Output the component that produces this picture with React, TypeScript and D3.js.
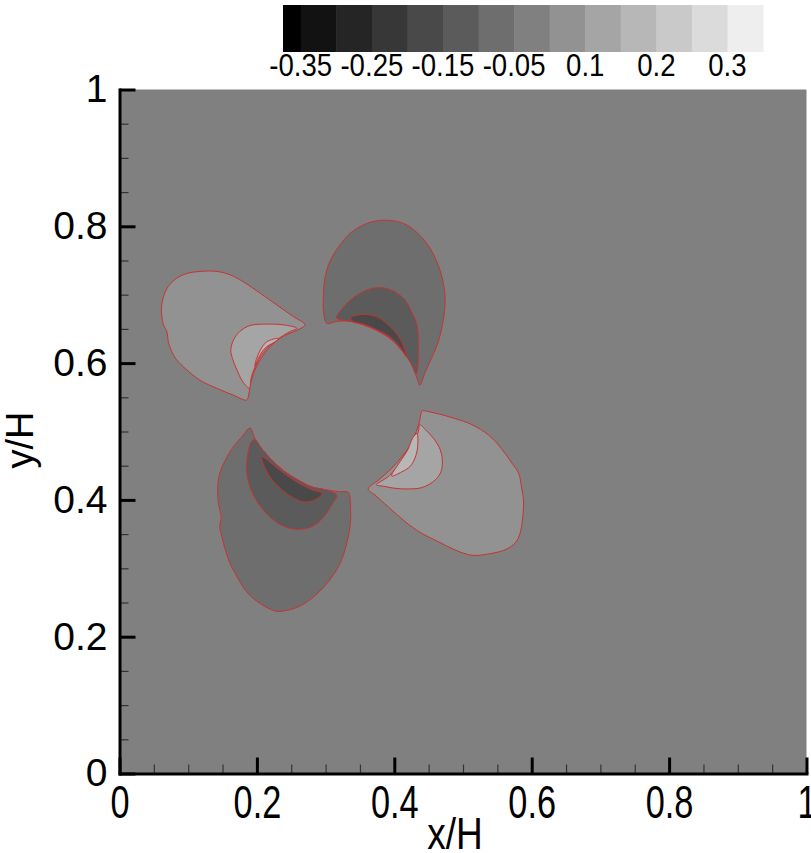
import React, { useEffect, useRef } from 'react';
import * as d3 from 'd3';

// contour levels -> 14 gray bands (band i lies between levels[i-1] and levels[i])
const levels = [-0.35, -0.3, -0.25, -0.2, -0.15, -0.1, -0.05, 0.05, 0.1, 0.15, 0.2, 0.25, 0.3];
const bandGray = [0, 18, 37, 55, 73, 91, 110, 128, 146, 165, 183, 201, 219, 238];
const legendLabels = [-0.35, -0.25, -0.15, -0.05, 0.1, 0.2, 0.3];
const majorTicks = [0, 0.2, 0.4, 0.6, 0.8, 1];
const minorTicks = [0.05, 0.1, 0.15, 0.25, 0.3, 0.35, 0.45, 0.5, 0.55, 0.65, 0.7, 0.75, 0.85, 0.9, 0.95];
const backgroundBand = 7;

// contour region outlines, [x/H, y/H]
// upper-left lobe (positive)
const nwOuter = [[0.270, 0.656], [0.253, 0.668], [0.229, 0.685], [0.205, 0.702], [0.180, 0.719], [0.161, 0.729], [0.142, 0.734], [0.117, 0.734], [0.098, 0.731], [0.083, 0.724], [0.071, 0.712], [0.064, 0.697], [0.061, 0.678], [0.064, 0.656], [0.069, 0.646], [0.071, 0.631], [0.076, 0.617], [0.083, 0.605], [0.098, 0.590], [0.117, 0.575], [0.142, 0.563], [0.166, 0.553], [0.185, 0.546], [0.188, 0.553], [0.190, 0.566], [0.195, 0.585], [0.205, 0.605], [0.219, 0.624], [0.238, 0.639], [0.258, 0.648]];
const nwMid = [[0.258, 0.651], [0.238, 0.656], [0.214, 0.657], [0.190, 0.655], [0.175, 0.646], [0.166, 0.634], [0.162, 0.619], [0.165, 0.605], [0.171, 0.590], [0.178, 0.575], [0.185, 0.566], [0.189, 0.563], [0.192, 0.580], [0.200, 0.600], [0.212, 0.619], [0.229, 0.634], [0.248, 0.646]];
const nwInner = [[0.231, 0.636], [0.214, 0.631], [0.205, 0.619], [0.199, 0.605], [0.197, 0.595], [0.202, 0.607], [0.212, 0.622], [0.229, 0.633]];

// upper-right lobe (negative)
const neOuter = [[0.302, 0.658], [0.297, 0.675], [0.297, 0.700], [0.299, 0.724], [0.306, 0.748], [0.319, 0.770], [0.336, 0.790], [0.355, 0.802], [0.374, 0.808], [0.399, 0.808], [0.418, 0.802], [0.437, 0.787], [0.452, 0.768], [0.464, 0.743], [0.471, 0.719], [0.474, 0.690], [0.471, 0.661], [0.464, 0.631], [0.454, 0.607], [0.445, 0.587], [0.437, 0.568], [0.433, 0.578], [0.423, 0.602], [0.408, 0.622], [0.394, 0.636], [0.374, 0.648], [0.355, 0.656], [0.336, 0.661], [0.316, 0.661]];
const neMid = [[0.316, 0.666], [0.323, 0.678], [0.336, 0.692], [0.350, 0.702], [0.367, 0.709], [0.384, 0.710], [0.401, 0.704], [0.416, 0.692], [0.425, 0.675], [0.433, 0.656], [0.435, 0.631], [0.435, 0.612], [0.434, 0.592], [0.432, 0.585], [0.423, 0.602], [0.408, 0.622], [0.394, 0.636], [0.374, 0.648], [0.355, 0.656], [0.336, 0.661]];
const neInner = [[0.336, 0.666], [0.345, 0.670], [0.360, 0.671], [0.374, 0.668], [0.389, 0.658], [0.401, 0.646], [0.411, 0.631], [0.416, 0.617], [0.418, 0.609], [0.408, 0.624], [0.394, 0.638], [0.374, 0.649], [0.355, 0.657], [0.340, 0.661]];

// lower-left lobe (negative)
const swOuter = [[0.190, 0.505], [0.178, 0.492], [0.166, 0.478], [0.154, 0.458], [0.146, 0.439], [0.143, 0.419], [0.144, 0.395], [0.148, 0.375], [0.146, 0.361], [0.149, 0.346], [0.154, 0.327], [0.161, 0.307], [0.171, 0.288], [0.183, 0.268], [0.197, 0.254], [0.212, 0.244], [0.229, 0.237], [0.241, 0.238], [0.256, 0.242], [0.270, 0.249], [0.289, 0.264], [0.306, 0.283], [0.321, 0.307], [0.331, 0.337], [0.336, 0.366], [0.336, 0.395], [0.333, 0.411], [0.319, 0.412], [0.299, 0.415], [0.280, 0.419], [0.260, 0.429], [0.241, 0.441], [0.222, 0.458], [0.207, 0.475], [0.197, 0.490]];
const swMid = [[0.192, 0.485], [0.187, 0.468], [0.185, 0.444], [0.190, 0.419], [0.202, 0.395], [0.219, 0.375], [0.238, 0.362], [0.258, 0.357], [0.280, 0.361], [0.297, 0.375], [0.309, 0.393], [0.316, 0.407], [0.299, 0.415], [0.280, 0.419], [0.260, 0.429], [0.241, 0.441], [0.222, 0.458], [0.207, 0.475], [0.197, 0.488]];
const swInner = [[0.207, 0.463], [0.212, 0.446], [0.222, 0.429], [0.236, 0.415], [0.251, 0.404], [0.268, 0.397], [0.282, 0.399], [0.292, 0.405], [0.295, 0.410], [0.280, 0.415], [0.260, 0.425], [0.241, 0.438], [0.224, 0.451], [0.212, 0.461]];

// lower-right lobe (positive)
const seOuter = [[0.440, 0.530], [0.459, 0.527], [0.488, 0.519], [0.513, 0.510], [0.537, 0.495], [0.556, 0.475], [0.571, 0.454], [0.581, 0.439], [0.585, 0.419], [0.588, 0.400], [0.587, 0.375], [0.583, 0.351], [0.576, 0.337], [0.561, 0.327], [0.537, 0.321], [0.513, 0.319], [0.488, 0.327], [0.464, 0.339], [0.440, 0.351], [0.416, 0.368], [0.391, 0.390], [0.372, 0.407], [0.362, 0.416], [0.377, 0.429], [0.396, 0.446], [0.411, 0.463], [0.423, 0.480], [0.430, 0.495], [0.436, 0.512], [0.439, 0.527]];
const seMid = [[0.437, 0.510], [0.446, 0.502], [0.457, 0.490], [0.467, 0.473], [0.470, 0.454], [0.467, 0.439], [0.457, 0.427], [0.440, 0.418], [0.420, 0.416], [0.401, 0.417], [0.384, 0.420], [0.374, 0.422], [0.391, 0.434], [0.406, 0.451], [0.418, 0.468], [0.428, 0.485], [0.435, 0.500]];
const seInner = [[0.433, 0.497], [0.434, 0.478], [0.430, 0.461], [0.423, 0.449], [0.411, 0.441], [0.396, 0.435], [0.407, 0.454], [0.419, 0.472], [0.427, 0.491]];

const regions = [
  { band: 8, pts: nwOuter }, { band: 9, pts: nwMid }, { band: 10, pts: nwInner },
  { band: 6, pts: neOuter }, { band: 5, pts: neMid }, { band: 4, pts: neInner },
  { band: 6, pts: swOuter }, { band: 5, pts: swMid }, { band: 4, pts: swInner },
  { band: 8, pts: seOuter }, { band: 9, pts: seMid }, { band: 10, pts: seInner },
];

const FONT = 'Liberation Sans, Arial, Helvetica, sans-serif';

const App = () => {
  const ref = useRef<SVGSVGElement>(null);

  useEffect(() => {
    const width = 811;
    const height = 853;
    const margin = { top: 89.5, right: 4.5, bottom: 79.5, left: 119.5 };

    const svg = d3.select(ref.current).attr('width', width).attr('height', height);
    svg.selectAll('*').remove();

    const x = d3.scaleLinear().domain([0, 1]).range([margin.left, width - margin.right]);
    const y = d3.scaleLinear().domain([0, 1]).range([height - margin.bottom, margin.top]);
    const gray = (b: number) => d3.rgb(bandGray[b], bandGray[b], bandGray[b]).formatHex();

    // plot background = band between -0.05 and 0.05
    svg.append('rect')
      .attr('x', x(0)).attr('y', y(1))
      .attr('width', x(1) - x(0)).attr('height', y(0) - y(1))
      .attr('fill', gray(backgroundBand));

    const line = d3.line<number[]>()
      .x(d => x(d[0]))
      .y(d => y(d[1]))
      .curve(d3.curveCatmullRomClosed.alpha(0.5));

    svg.append('g').selectAll('path')
      .data(regions)
      .join('path')
      .attr('d', d => line(d.pts))
      .attr('fill', d => gray(d.band))
      .attr('stroke', '#c83232')
      .attr('stroke-width', 1);

    // minor ticks (inward)
    const xMinor = svg.append('g').attr('transform', `translate(0,${y(0)})`)
      .call(d3.axisBottom(x).tickValues(minorTicks).tickSize(-9).tickFormat(() => ''));
    const yMinor = svg.append('g').attr('transform', `translate(${x(0)},0)`)
      .call(d3.axisLeft(y).tickValues(minorTicks).tickSize(-9).tickFormat(() => ''));
    [xMinor, yMinor].forEach(g => {
      g.select('.domain').remove();
      g.selectAll('line').attr('stroke', '#333').attr('stroke-width', 1.2);
    });

    // major ticks + labels
    const xAxis = svg.append('g').attr('transform', `translate(0,${y(0)})`)
      .call(d3.axisBottom(x).tickValues(majorTicks).tickSize(-16).tickSizeOuter(0)
        .tickPadding(10).tickFormat(d3.format('')));
    const yAxis = svg.append('g').attr('transform', `translate(${x(0)},0)`)
      .call(d3.axisLeft(y).tickValues(majorTicks).tickSize(-16).tickSizeOuter(0)
        .tickPadding(12).tickFormat(d3.format('')));
    [xAxis, yAxis].forEach(g => {
      g.attr('font-size', null).attr('font-family', null);
      g.select('.domain').attr('stroke', '#000').attr('stroke-width', 3).attr('stroke-linecap', 'square');
      g.selectAll('.tick line').attr('stroke', '#000').attr('stroke-width', 3);
      g.selectAll('text').attr('fill', '#000').style('font-family', FONT).style('font-size', '39px');
    });
    // x labels are drawn tall and narrow in the original
    xAxis.selectAll('text').attr('transform', 'scale(0.88,1.17)');

    // axis titles
    svg.append('text')
      .attr('transform', 'translate(455,849) scale(0.95,1.15)')
      .attr('text-anchor', 'middle')
      .style('font-family', FONT).style('font-size', '39px')
      .text('x/H');
    svg.append('text')
      .attr('transform', `translate(33,440) rotate(-90)`)
      .attr('text-anchor', 'middle')
      .style('font-family', FONT).style('font-size', '38px')
      .text('y/H');

    // colour legend
    const cb = d3.scaleLinear().domain([-0.5, levels.length]).range([283, 763]);
    const legend = svg.append('g');
    legend.selectAll('rect')
      .data(bandGray)
      .join('rect')
      .attr('x', (d, i) => (i === 0 ? cb(-0.5) : cb(i - 1)))
      .attr('y', 5)
      .attr('width', (d, i) => (i === 0 ? cb(0) - cb(-0.5) : cb(i) - cb(i - 1)) + 0.5)
      .attr('height', 47)
      .attr('fill', (d, i) => gray(i));
    legend.selectAll('text')
      .data(legendLabels)
      .join('text')
      .attr('transform', d => `translate(${cb(levels.indexOf(d))},76) scale(0.92,1.05)`)
      .attr('text-anchor', 'middle')
      .style('font-family', FONT).style('font-size', '30px')
      .text(d => String(d));
  }, []);

  return (
    <div style={{ position: 'absolute', left: 0, top: 0 }}>
      <svg ref={ref} style={{ display: 'block' }} />
    </div>
  );
};

export default App;
